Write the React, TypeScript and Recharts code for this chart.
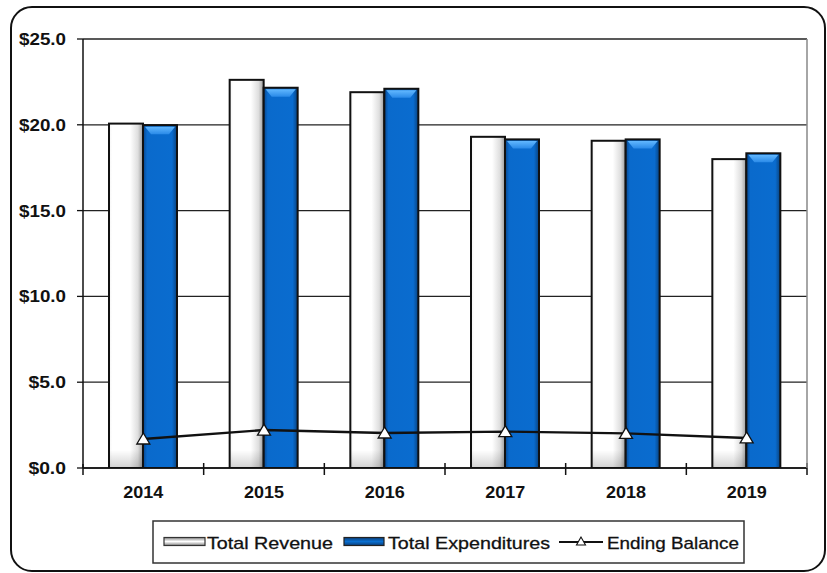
import React from 'react'
import { ComposedChart, Bar, Line, XAxis, YAxis, CartesianGrid } from 'recharts'

const years = ['2014', '2015', '2016', '2017', '2018', '2019']
const totalRevenue = [20.07, 22.62, 21.9, 19.3, 19.07, 18.0]
const totalExpenditures = [19.98, 22.16, 22.1, 19.15, 19.15, 18.34]
const endingBalance = [1.69, 2.21, 2.04, 2.12, 2.02, 1.75]
const yTicks = [0, 5, 10, 15, 20, 25]

const W = 827
const H = 573
const PLOT_LEFT = 83
const PLOT_RIGHT = 807
const PLOT_TOP = 39
const PLOT_BOTTOM = 468
const BAND = (PLOT_RIGHT - PLOT_LEFT) / years.length
const FONT = '"Liberation Sans", Arial, Helvetica, sans-serif'

const data = years.map((y, i) => ({
  year: y,
  revenue: totalRevenue[i],
  expenditures: totalExpenditures[i],
  balance: endingBalance[i],
}))

function RevenueBar(props: any) {
  const { x, y, width, height } = props
  if (!height || height <= 0) return null
  return (
    <g>
      <rect x={x} y={y} width={width} height={height} fill="url(#revGrad)" />
      <rect x={x} y={y + height - 18} width={width} height={18} fill="url(#revBottom)" />
      <rect x={x} y={y} width={width} height={height} fill="none" stroke="#111" strokeWidth={2} />
    </g>
  )
}

function ExpBar(props: any) {
  const { x, y, width, height } = props
  if (!height || height <= 0) return null
  return (
    <g>
      <rect x={x} y={y} width={width} height={height} fill="url(#expGrad)" />
      <path
        d={`M${x + 2},${y + 1.5} L${x + width - 2},${y + 1.5} L${x + width - 8},${y + 9} L${x + 8},${y + 9} Z`}
        fill="url(#expTop)"
      />
      <rect x={x} y={y} width={width} height={height} fill="none" stroke="#111" strokeWidth={2} />
    </g>
  )
}

function TriangleDot(props: any) {
  const { cx, cy } = props
  if (cx == null || cy == null) return null
  return (
    <polygon
      points={`${cx},${cy - 6} ${cx - 6.5},${cy + 5} ${cx + 6.5},${cy + 5}`}
      fill="#fff"
      stroke="#111"
      strokeWidth={1.3}
    />
  )
}

function YearTick(props: any) {
  const { x, y, payload, index } = props
  const right = x + BAND / 2
  const left = x - BAND / 2
  return (
    <g>
      {index === 0 && <line x1={left} x2={left} y1={y - 4} y2={y + 7} stroke="#111" strokeWidth={1.5} />}
      <line x1={right} x2={right} y1={y - 5} y2={y + 7} stroke="#111" strokeWidth={1.5} />
      {index === years.length - 1 && (
        <line x1={right} x2={right} y1={PLOT_TOP} y2={y} stroke="#888" strokeWidth={1.5} />
      )}
      <text
        x={x}
        y={y + 30}
        textAnchor="middle"
        fontFamily={FONT}
        fontWeight="bold"
        fontSize={17}
        fill="#111"
        textLength={40}
        lengthAdjust="spacingAndGlyphs"
      >
        {payload.value}
      </text>
    </g>
  )
}

function MoneyTick(props: any) {
  const { x, y, payload } = props
  const label = `$${Number(payload.value).toFixed(1)}`
  return (
    <text
      x={x}
      y={y + 6}
      textAnchor="end"
      fontFamily={FONT}
      fontWeight="bold"
      fontSize={17}
      fill="#111"
      textLength={label.length * 9.4}
      lengthAdjust="spacingAndGlyphs"
    >
      {label}
    </text>
  )
}

function LegendBox() {
  const txt = { fontFamily: FONT, fontSize: 17, fill: '#111', stroke: '#111', strokeWidth: 0.3 } as const
  return (
    <svg width={W} height={H} style={{ position: 'absolute', left: 0, top: 0, pointerEvents: 'none' }}>
      <defs>
        <linearGradient id="legRev" x1="0" y1="0" x2="0" y2="1">
          <stop offset="0%" stopColor="#888" />
          <stop offset="50%" stopColor="#fff" />
          <stop offset="100%" stopColor="#888" />
        </linearGradient>
        <linearGradient id="legExp" x1="0" y1="0" x2="0" y2="1">
          <stop offset="0%" stopColor="#0a3f7a" />
          <stop offset="50%" stopColor="#0a6fd0" />
          <stop offset="100%" stopColor="#0a3f7a" />
        </linearGradient>
      </defs>
      <rect x={153} y={521} width={591} height={42} fill="#fff" stroke="#333" strokeWidth={1.5} />
      <rect x={164} y={537.5} width={41} height={8} fill="url(#legRev)" stroke="#333" strokeWidth={1.2} />
      <text x={207} y={549} {...txt} textLength={126} lengthAdjust="spacingAndGlyphs">Total Revenue</text>
      <rect x={344} y={537.5} width={40} height={8} fill="url(#legExp)" stroke="#222" strokeWidth={1.2} />
      <text x={388} y={549} {...txt} textLength={162} lengthAdjust="spacingAndGlyphs">Total Expenditures</text>
      <line x1={559} x2={603} y1={542} y2={542} stroke="#111" strokeWidth={2} />
      <polygon points="581,537 576.5,545 585.5,545" fill="#fff" stroke="#111" strokeWidth={1.1} />
      <text x={607} y={549} {...txt} textLength={132} lengthAdjust="spacingAndGlyphs">Ending Balance</text>
    </svg>
  )
}

export default function App() {
  return (
    <div style={{ position: 'absolute', left: 0, top: 0, width: W, height: H, background: '#fff', overflow: 'hidden' }}>
      <div
        style={{
          position: 'absolute',
          left: 10,
          top: 6,
          width: 816,
          height: 566,
          border: '2.5px solid #111',
          borderRadius: 22,
          boxSizing: 'border-box',
        }}
      />
      <ComposedChart
        width={W}
        height={H}
        data={data}
        margin={{ top: PLOT_TOP, right: W - PLOT_RIGHT, left: 10, bottom: H - PLOT_BOTTOM - 40 }}
        barGap={0}
        style={{ position: 'absolute', left: 0, top: 0 }}
      >
        <defs>
          <linearGradient id="revGrad" x1="0" y1="0" x2="1" y2="0">
            <stop offset="0%" stopColor="#f4f4f4" />
            <stop offset="10%" stopColor="#ffffff" />
            <stop offset="62%" stopColor="#ffffff" />
            <stop offset="85%" stopColor="#dedede" />
            <stop offset="100%" stopColor="#9a9a9a" />
          </linearGradient>
          <linearGradient id="revBottom" x1="0" y1="0" x2="0" y2="1">
            <stop offset="0%" stopColor="rgba(0,0,0,0)" />
            <stop offset="100%" stopColor="rgba(0,0,0,0.18)" />
          </linearGradient>
          <linearGradient id="expGrad" x1="0" y1="0" x2="1" y2="0">
            <stop offset="0%" stopColor="#08468c" />
            <stop offset="12%" stopColor="#0a6acc" />
            <stop offset="85%" stopColor="#0a6ccf" />
            <stop offset="100%" stopColor="#08427f" />
          </linearGradient>
          <linearGradient id="expTop" x1="0" y1="0" x2="0" y2="1">
            <stop offset="0%" stopColor="#62b8ff" />
            <stop offset="100%" stopColor="#2a8ae8" />
          </linearGradient>
        </defs>
        <CartesianGrid vertical={false} stroke="#222" strokeWidth={1.3} />
        <XAxis
          dataKey="year"
          axisLine={{ stroke: '#111', strokeWidth: 1.5 }}
          tickLine={false}
          tickSize={0}
          tickMargin={0}
          height={40}
          tick={<YearTick />}
          interval={0}
        />
        <YAxis
          domain={[0, 25]}
          ticks={yTicks}
          width={73}
          axisLine={{ stroke: '#111', strokeWidth: 1.5 }}
          tickLine={{ stroke: '#111', strokeWidth: 1.3 }}
          tickSize={6}
          tickMargin={11}
          tick={<MoneyTick />}
          allowDataOverflow
        />
        <Bar dataKey="revenue" name="Total Revenue" barSize={34} shape={<RevenueBar />} isAnimationActive={false} />
        <Bar dataKey="expenditures" name="Total Expenditures" barSize={34} shape={<ExpBar />} isAnimationActive={false} />
        <Line
          dataKey="balance"
          name="Ending Balance"
          type="linear"
          stroke="#111"
          strokeWidth={2.4}
          dot={<TriangleDot />}
          activeDot={false}
          isAnimationActive={false}
        />
      </ComposedChart>
      <LegendBox />
    </div>
  )
}
